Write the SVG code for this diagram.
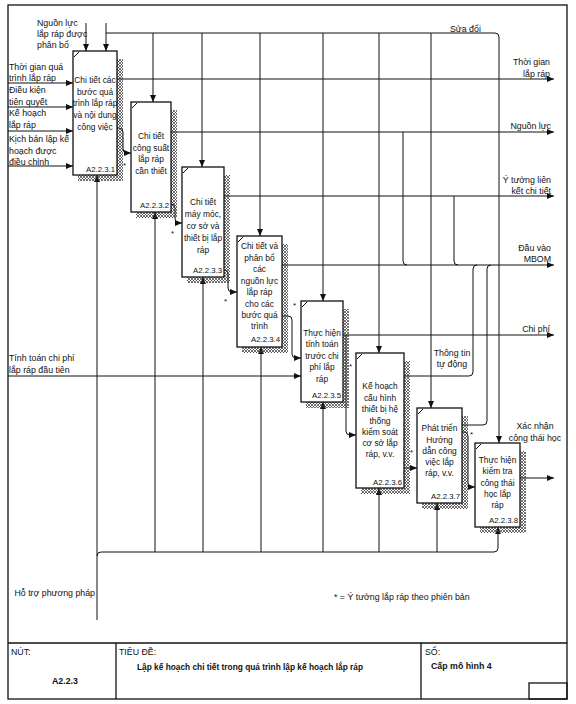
<svg xmlns="http://www.w3.org/2000/svg" width="576" height="704" viewBox="0 0 576 704">
<defs>
<marker id="a" viewBox="0 0 7 6" refX="7" refY="3" markerWidth="7" markerHeight="6" markerUnits="userSpaceOnUse" orient="auto"><path d="M0,0 L7,3 L0,6 z" fill="#111"/></marker>
<pattern id="h" width="3" height="3" patternUnits="userSpaceOnUse"><path d="M0,3 L3,0 M0,0 L3,3" stroke="#333" stroke-width="0.7"/></pattern>
</defs>
<style>
text{font-family:"Liberation Sans",Arial,sans-serif;font-size:8.8px;fill:#111}
.c{text-anchor:middle;font-size:8.4px}
.r{text-anchor:end}
.n{font-size:7.8px}
.b{font-weight:bold}
.s{font-size:8px}
.box{fill:#fff;stroke:#111;stroke-width:1.3}
.sh{fill:url(#h)}
.ln{fill:none;stroke:#111;stroke-width:1}
.ar{fill:none;stroke:#111;stroke-width:1;marker-end:url(#a)}
.fr{fill:none;stroke:#111;stroke-width:1.3}
.lb{font-size:8.8px}
</style>
<rect x="0" y="0" width="576" height="704" fill="#fff"/>
<g id="frame">
<rect class="fr" x="8" y="5" width="559" height="694"/>
<line class="fr" x1="8" y1="643" x2="567" y2="643"/>
<line class="fr" x1="116" y1="643" x2="116" y2="699"/>
<line class="fr" x1="421" y1="643" x2="421" y2="699"/>
<rect class="fr" x="529" y="683" width="38" height="16"/>
<text x="11" y="655">NÚT:</text>
<text x="52" y="684" class="b">A2.2.3</text>
<text x="119" y="655">TIÊU ĐỀ:</text>
<text x="137" y="670" class="b" textLength="226" lengthAdjust="spacingAndGlyphs">Lập kế hoạch chi tiết trong quá trình lập kế hoạch lắp ráp</text>
<text x="425" y="655">SỐ:</text>
<text x="431" y="669" class="b">Cấp mô hình 4</text>
</g>
<g id="connectors">
<line class="ar" x1="86" y1="23" x2="86" y2="51"/>
<line class="ar" x1="106" y1="23" x2="106" y2="51"/>
<path class="ar" d="M106,33 H495 Q499,33 499,37 V443"/>
<line class="ar" x1="153" y1="33" x2="153" y2="102"/>
<line class="ar" x1="202" y1="33" x2="202" y2="167"/>
<line class="ar" x1="260" y1="33" x2="260" y2="236"/>
<line class="ar" x1="323" y1="33" x2="323" y2="301"/>
<line class="ar" x1="379" y1="33" x2="379" y2="353"/>
<line class="ar" x1="431" y1="33" x2="431" y2="408"/>
<line class="ar" x1="8" y1="83" x2="73" y2="83"/>
<line class="ar" x1="8" y1="107" x2="73" y2="107"/>
<line class="ar" x1="8" y1="131" x2="73" y2="131"/>
<line class="ar" x1="8" y1="166" x2="73" y2="166"/>
<line class="ar" x1="8" y1="376" x2="301" y2="376"/>
<line class="ar" x1="117" y1="79" x2="554" y2="79"/>
<line class="ar" x1="171" y1="132" x2="554" y2="132"/>
<line class="ar" x1="224" y1="196" x2="554" y2="196"/>
<line class="ar" x1="282" y1="265" x2="554" y2="265"/>
<line class="ar" x1="343" y1="335" x2="554" y2="335"/>
<line class="ar" x1="520" y1="478" x2="554" y2="478"/>
<path class="ln" d="M403,132 V261 Q403,265 407,265"/>
<path class="ln" d="M454,196 V261 Q454,265 458,265"/>
<path class="ln" d="M404,376 H469 Q473,376 473,372 V269 Q473,265 477,265"/>
<path class="ln" d="M462,425 H483 Q487,425 487,421 V269 Q487,265 491,265"/>
<path class="ar" d="M117,128 H119 Q123,128 123,132 V149 Q123,153 127,153 H131"/>
<path class="ar" d="M171,204 Q175,204 175,208 V219 Q175,223 179,223 H182"/>
<path class="ar" d="M224,270 Q228,270 228,274 V288 Q228,292 232,292 H237"/>
<path class="ar" d="M282,316 H288 Q292,316 292,320 V354 Q292,358 296,358 H301"/>
<path class="ar" d="M346,335 V431 Q346,435 350,435 H356"/>
<line class="ar" x1="404" y1="468" x2="417" y2="468"/>
<path class="ar" d="M462,432 H464 Q468,432 468,436 V483 Q468,487 472,487 H475"/>
<line class="ar" x1="97" y1="620" x2="97" y2="175"/>
<path class="ar" d="M97,556 Q97,552 101,552 H494 Q498,552 498,548 V527"/>
<line class="ar" x1="155" y1="552" x2="155" y2="212"/>
<line class="ar" x1="203" y1="552" x2="203" y2="277"/>
<line class="ar" x1="261" y1="552" x2="261" y2="347"/>
<line class="ar" x1="323" y1="552" x2="323" y2="402"/>
<line class="ar" x1="379" y1="552" x2="379" y2="488"/>
<line class="ar" x1="437" y1="552" x2="437" y2="503"/>
</g>
<g id="labels">
<text x="37" y="26">Nguồn lực</text>
<text x="37" y="37">lắp ráp được</text>
<text x="37" y="48">phân bổ</text>
<text x="9" y="70">Thời gian quá</text>
<text x="9" y="81">trình lắp ráp</text>
<text x="9" y="93">Điều kiện</text>
<text x="9" y="105">tiên quyết</text>
<text x="9" y="116">Kế hoạch</text>
<text x="9" y="128">lắp ráp</text>
<text x="9" y="142">Kịch bản lập kế</text>
<text x="9" y="154">hoạch được</text>
<text x="9" y="165">điều chỉnh</text>
<text x="9" y="361">Tính toán chi phí</text>
<text x="9" y="373">lắp ráp đầu tiên</text>
<text x="95" y="596" class="r">Hỗ trợ phương pháp</text>
<text x="450" y="32">Sửa đổi</text>
<text x="550" y="65" class="r">Thời gian</text>
<text x="550" y="77" class="r">lắp ráp</text>
<text x="551" y="129" class="r">Nguồn lực</text>
<text x="551" y="183" class="r">Ý tưởng liên</text>
<text x="551" y="194" class="r">kết chi tiết</text>
<text x="551" y="251" class="r">Đầu vào</text>
<text x="551" y="262" class="r">MBOM</text>
<text x="550" y="332" class="r">Chi phí</text>
<text x="452" y="356" class="c lb">Thông tin</text>
<text x="452" y="367" class="c lb">tự động</text>
<text x="535" y="429" class="c lb">Xác nhận</text>
<text x="535" y="441" class="c lb">công thái học</text>
<text x="334" y="600">* = Ý tưởng lắp ráp theo phiên bản</text>
<text x="123" y="168" class="s">*</text>
<text x="171" y="236" class="s">*</text>
<text x="224" y="304" class="s">*</text>
<text x="293" y="308" class="s">*</text>
<text x="349" y="369" class="s">*</text>
<text x="410" y="455" class="s">*</text>
<text x="470" y="437" class="s">*</text>
</g>
<g id="box1">
<rect class="sh" x="117" y="59" width="6" height="122"/><rect class="sh" x="78" y="175" width="39" height="6"/>
<rect class="box" x="73" y="51" width="44" height="124"/>
<path class="ln" d="M74,57 L79,52"/>
<text x="95" y="83" class="c">Chi tiết các</text><text x="95" y="95" class="c">bước quá</text><text x="95" y="106" class="c">trình lắp ráp</text><text x="95" y="118" class="c">và nội dung</text><text x="95" y="130" class="c">công việc</text>
<text x="115" y="172" class="r n">A2.2.3.1</text>
</g>
<g id="box2">
<rect class="sh" x="171" y="110" width="6" height="108"/><rect class="sh" x="136" y="212" width="35" height="6"/>
<rect class="box" x="131" y="102" width="40" height="110"/>
<path class="ln" d="M132,108 L137,103"/>
<text x="151" y="139" class="c">Chi tiết</text><text x="151" y="151" class="c">công suất</text><text x="151" y="162" class="c">lắp ráp</text><text x="151" y="174" class="c">cần thiết</text>
<text x="169" y="208" class="r n">A2.2.3.2</text>
</g>
<g id="box3">
<rect class="sh" x="224" y="175" width="6" height="108"/><rect class="sh" x="187" y="277" width="37" height="6"/>
<rect class="box" x="182" y="167" width="42" height="110"/>
<path class="ln" d="M183,173 L188,168"/>
<text x="203" y="205" class="c">Chi tiết</text><text x="203" y="217" class="c">máy móc,</text><text x="203" y="229" class="c">cơ sở và</text><text x="203" y="241" class="c">thiết bị lắp</text><text x="203" y="253" class="c">ráp</text>
<text x="222" y="273" class="r n">A2.2.3.3</text>
</g>
<g id="box4">
<rect class="sh" x="282" y="244" width="6" height="109"/><rect class="sh" x="242" y="347" width="40" height="6"/>
<rect class="box" x="237" y="236" width="45" height="111"/>
<path class="ln" d="M238,242 L243,237"/>
<text x="259.5" y="249" class="c">Chi tiết và</text><text x="259.5" y="261" class="c">phân bổ</text><text x="259.5" y="272" class="c">các</text><text x="259.5" y="284" class="c">nguồn lực</text><text x="259.5" y="295" class="c">lắp ráp</text><text x="259.5" y="307" class="c">cho các</text><text x="259.5" y="318" class="c">bước quá</text><text x="259.5" y="329" class="c">trình</text>
<text x="280" y="342" class="r n">A2.2.3.4</text>
</g>
<g id="box5">
<rect class="sh" x="343" y="309" width="6" height="99"/><rect class="sh" x="306" y="402" width="37" height="6"/>
<rect class="box" x="301" y="301" width="42" height="101"/>
<path class="ln" d="M302,307 L307,302"/>
<text x="322" y="336" class="c">Thực hiện</text><text x="322" y="347" class="c">tính toán</text><text x="322" y="359" class="c">trước chi</text><text x="322" y="370" class="c">phí lắp</text><text x="322" y="382" class="c">ráp</text>
<text x="341" y="398" class="r n">A2.2.3.5</text>
</g>
<g id="box6">
<rect class="sh" x="404" y="361" width="6" height="133"/><rect class="sh" x="361" y="488" width="43" height="6"/>
<rect class="box" x="356" y="353" width="48" height="135"/>
<path class="ln" d="M357,359 L362,354"/>
<text x="380" y="389" class="c">Kế hoạch</text><text x="380" y="401" class="c">cấu hình</text><text x="380" y="412" class="c">thiết bị hệ</text><text x="380" y="424" class="c">thống</text><text x="380" y="435" class="c">kiểm soát</text><text x="380" y="446" class="c">cơ sở lắp</text><text x="380" y="457" class="c">ráp, v.v.</text>
<text x="402" y="485" class="r n">A2.2.3.6</text>
</g>
<g id="box7">
<rect class="sh" x="462" y="416" width="6" height="93"/><rect class="sh" x="422" y="503" width="40" height="6"/>
<rect class="box" x="417" y="408" width="45" height="95"/>
<path class="ln" d="M418,414 L423,409"/>
<text x="439.5" y="431" class="c">Phát triển</text><text x="439.5" y="443" class="c">Hướng</text><text x="439.5" y="454" class="c">dẫn công</text><text x="439.5" y="465" class="c">việc lắp</text><text x="439.5" y="476" class="c">ráp, v.v.</text>
<text x="460" y="499" class="r n">A2.2.3.7</text>
</g>
<g id="box8">
<rect class="sh" x="520" y="451" width="6" height="82"/><rect class="sh" x="480" y="527" width="40" height="6"/>
<rect class="box" x="475" y="443" width="45" height="84"/>
<path class="ln" d="M476,449 L481,444"/>
<text x="497.5" y="463" class="c">Thực hiện</text><text x="497.5" y="474" class="c">kiểm tra</text><text x="497.5" y="486" class="c">công thái</text><text x="497.5" y="497" class="c">học lắp</text><text x="497.5" y="508" class="c">ráp</text>
<text x="518" y="523" class="r n">A2.2.3.8</text>
</g>
</svg>
